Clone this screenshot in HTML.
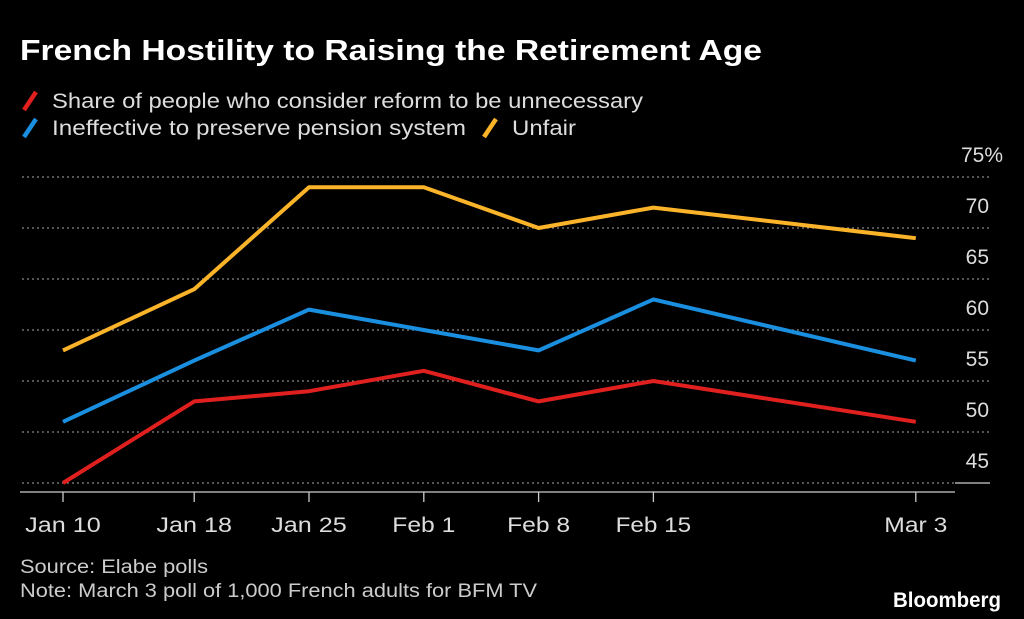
<!DOCTYPE html>
<html><head><meta charset="utf-8"><style>
body{margin:0;background:#000;width:1024px;height:619px;overflow:hidden;font-family:"Liberation Sans",sans-serif}
</style></head><body>
<svg width="1024" height="619" style="display:block">
<text x="20" y="60" fill="#fff" font-size="29" font-weight="bold" textLength="742" lengthAdjust="spacingAndGlyphs">French Hostility to Raising the Retirement Age</text>
<g font-size="21" fill="#ddd">
<line x1="24" y1="110" x2="36" y2="92" stroke="#e0201e" stroke-width="4.5"/>
<text x="52" y="108" textLength="591" lengthAdjust="spacingAndGlyphs">Share of people who consider reform to be unnecessary</text>
<line x1="24" y1="137" x2="36" y2="119" stroke="#1a8fe0" stroke-width="4.5"/>
<text x="52" y="135" textLength="414" lengthAdjust="spacingAndGlyphs">Ineffective to preserve pension system</text>
<line x1="484" y1="137" x2="496" y2="119" stroke="#fbb42a" stroke-width="4.5"/>
<text x="512" y="135" textLength="64" lengthAdjust="spacingAndGlyphs">Unfair</text>
</g>
<g id="grid"></g><g id="axes"></g><g id="series"></g>
<text x="20" y="573" fill="#ccc" font-size="19" textLength="188" lengthAdjust="spacingAndGlyphs">Source: Elabe polls</text>
<text x="20" y="597" fill="#ccc" font-size="19" textLength="517" lengthAdjust="spacingAndGlyphs">Note: March 3 poll of 1,000 French adults for BFM TV</text>
<text x="1001" y="607" fill="#fff" font-size="21" font-weight="bold" text-anchor="end" textLength="108" lengthAdjust="spacingAndGlyphs">Bloomberg</text>
</svg>
<script>
const categories=["Jan 10","Jan 18","Jan 25","Feb 1","Feb 8","Feb 15","Mar 3"];
const dayOffsets=[0,8,15,22,29,36,52];
const unnecessary=[45,53,54,56,53,55,51];
const ineffective=[51,57,62,60,58,63,57];
const unfair=[58,64,74,74,70,72,69];
const yTicks=[45,50,55,60,65,70,75];
const NS="http://www.w3.org/2000/svg";
const x=d=>63+d*16.4;
const y=v=>483-(v-45)*10.2;
function mk(tag,attrs,parent){const e=document.createElementNS(NS,tag);for(const k in attrs)e.setAttribute(k,attrs[k]);document.getElementById(parent).appendChild(e);return e;}
yTicks.forEach(v=>{
  const l=mk("line",{x1:22,x2:v>45?990:955,y1:y(v),y2:y(v),stroke:"#888","stroke-width":1.3,"stroke-dasharray":"2,3"},"grid");
  
  
  const t=mk("text",{x:v===75?1003:989,y:y(v)-15,fill:"#ddd","font-size":21,"text-anchor":"end"},"grid");
  t.textContent=v===75?"75%":v;
  
  
});
const ax=mk("line",{x1:20,x2:955,y1:y(45)+9,y2:y(45)+9,stroke:"#ccc","stroke-width":1.3},"axes");


const b=mk("line",{x1:955,x2:990,y1:y(45),y2:y(45),stroke:"#ccc","stroke-width":1.3},"axes");


categories.forEach((c,i)=>{
  const tk=mk("line",{x1:x(dayOffsets[i]),x2:x(dayOffsets[i]),y1:y(45)+9,y2:y(45)+19,stroke:"#ccc","stroke-width":1.3},"axes");
  
  
  const t=mk("text",{x:x(dayOffsets[i]),y:532,fill:"#ddd","font-size":21,"text-anchor":"middle","textLength":c.length*12.6,"lengthAdjust":"spacingAndGlyphs"},"axes");
  t.textContent=c;
  
  
});
[[unfair,"#fbb42a","line-unfair"],[ineffective,"#1a8fe0","line-ineffective"],[unnecessary,"#e0201e","line-unnecessary"]].forEach(([vals,col,name])=>{
  const p=mk("polyline",{points:vals.map((v,i)=>x(dayOffsets[i])+","+y(v)).join(" "),fill:"none",stroke:col,"stroke-width":4,"stroke-linejoin":"round"},"series");
  
  
});
</script>
</body></html>
